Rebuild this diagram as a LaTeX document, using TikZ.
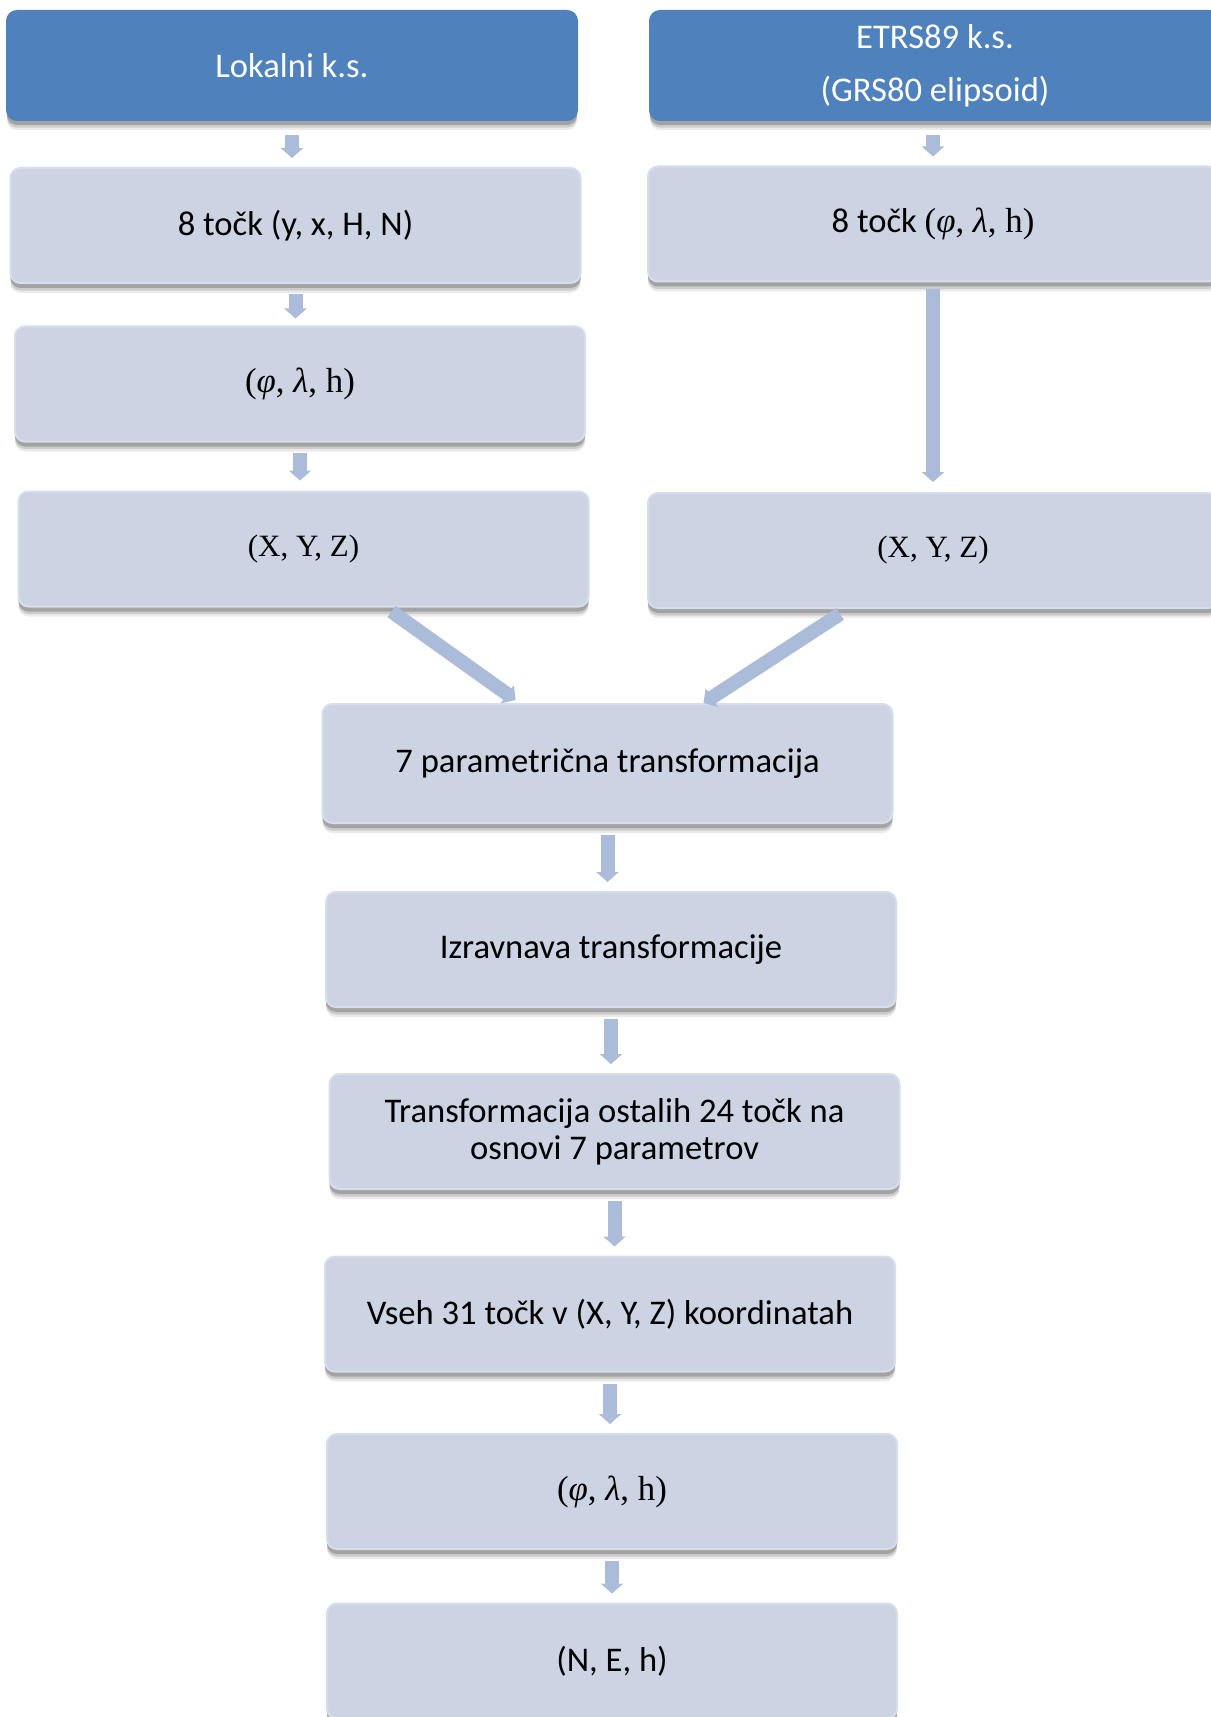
\documentclass[tikz,border=0pt]{standalone}
\usepackage{fontspec}
\setmainfont{Carlito}
\newfontfamily\serifm{Liberation Serif}
\usetikzlibrary{shadows,arrows.meta,calc}
\definecolor{darkbox}{RGB}{79,129,189}
\definecolor{lightbox}{RGB}{204,211,226}
\definecolor{lightedge}{RGB}{214,221,235}
\definecolor{arrowc}{RGB}{170,188,218}
\newcommand\mkflh{{\serifm\fontsize{17.4}{18.6}\selectfont(\textit{φ}, \textit{λ}, h)}}
\newcommand\mkxyz{{\serifm\fontsize{15.5}{18.6}\selectfont(X, Y, Z)}}
\begin{document}
\begin{tikzpicture}[x=0.5pt,y=-0.5pt,
  box/.style={rectangle, rounded corners=5pt, fill=lightbox, draw=lightedge, line width=1pt,
    minimum width=285pt, minimum height=57.5pt, inner sep=0pt, align=center,
    font=\fontsize{17.3}{18.6}\selectfont,
    drop shadow={shadow xshift=0pt, shadow yshift=-5pt, opacity=0.08, fill=black},
    drop shadow={shadow xshift=0pt, shadow yshift=-3.8pt, opacity=0.13, fill=black},
    drop shadow={shadow xshift=0pt, shadow yshift=-2.5pt, opacity=0.2, fill=black}},
  topbox/.style={box, fill=darkbox, draw=darkbox, text=white, minimum height=54.5pt},
  flow/.style={draw=arrowc, line width=7pt, -{Triangle[width=11pt,length=5pt]}}]
\useasboundingbox (0,0) rectangle (1210,1717);
\fill[white] (0,0) rectangle (1210,1717);

% left column
\node[topbox] (lok) at (292,65.5) {Lokalni k.s.};
\node[box] (p8l) at (295.5,225.5) {8 točk (y, x, H, N)};
\node[box] (fll) at (300,384) {\mkflh};
\node[box] (xyzl) at (303.5,549) {\mkxyz};

% right column
\node[topbox] (etrs) at (935,65.5) {ETRS89 k.s.\\[8pt](GRS80 elipsoid)};
\node[box] (p8r) at (933,224) {8 točk \mkflh};
\node[box] (xyzr) at (933,550.5) {\mkxyz};

% center column
\node[box, minimum height=59.5pt] (par7) at (607.5,763.5) {\raisebox{-2pt}{7 parametrična transformacija}};
\node[box] (izr) at (611,949.5) {Izravnava transformacije};
\node[box] (tra) at (614.5,1131.5) {Transformacija ostalih 24 točk na\\osnovi 7 parametrov};
\node[box] (vseh) at (610,1314) {Vseh 31 točk v (X, Y, Z) koordinatah};
\node[box] (fl2) at (612,1491.5) {\mkflh};
\node[box] (neh) at (612,1661) {(N, E, h)};

% arrows
\draw[flow, shorten <=7pt, shorten >=4.5pt] (lok.south) -- (lok.south |- p8l.north);
\draw[flow, shorten <=5pt, shorten >=3.5pt] (p8l.south) -- (p8l.south |- fll.north);
\draw[flow, shorten <=5pt, shorten >=5pt] (fll.south) -- (fll.south |- xyzl.north);
\draw[flow, shorten <=7pt, shorten >=4.5pt] (p8r.north |- etrs.south) -- (p8r.north);
\draw[flow, shorten <=3.5pt, shorten >=5pt] (p8r.south) -- (p8r.south |- xyzr.north);
\draw[flow] ([xshift=44pt,yshift=-2pt]xyzl.south) -- ([xshift=-46pt,yshift=1.5pt]par7.north);
\draw[flow] ([xshift=-46.5pt,yshift=-2.5pt]xyzr.south) -- ([xshift=48pt]par7.north);
\draw[flow, shorten <=5.5pt, shorten >=4.5pt] (par7.south) -- (par7.south |- izr.north);
\draw[flow, shorten <=5.5pt, shorten >=4.5pt] (izr.south) -- (izr.south |- tra.north);
\draw[flow, shorten <=5.5pt, shorten >=4.5pt] (tra.south) -- (tra.south |- vseh.north);
\draw[flow, shorten <=5.5pt, shorten >=4.5pt] (vseh.south) -- (vseh.south |- fl2.north);
\draw[flow, shorten <=5.5pt, shorten >=4.5pt] (fl2.south) -- (fl2.south |- neh.north);
\end{tikzpicture}
\end{document}
